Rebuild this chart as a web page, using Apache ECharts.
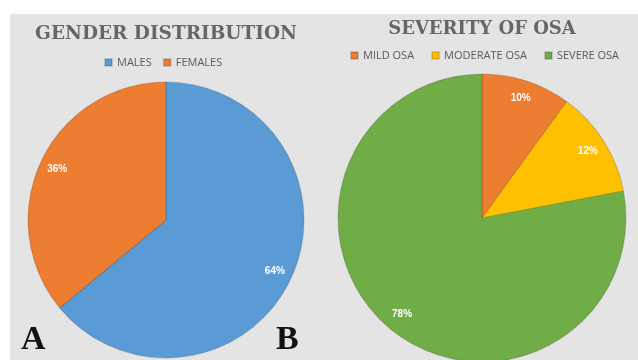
<!DOCTYPE html>
<html>
<head>
<meta charset="utf-8">
<script src="https://cdn.jsdelivr.net/npm/echarts@6/dist/echarts.min.js"></script>
<style>
  html, body { margin: 0; padding: 0; background: #fff; }
  #chart { width: 638px; height: 360px; }
</style>
</head>
<body>
<div id="chart"></div>
<script>
// gender pie (A)
const genderNames = ["MALES", "FEMALES"];
const genderValues = [64, 36];
const genderColors = ["#5b9bd5", "#ed7d31"];

// severity pie (B)
const osaNames = ["MILD OSA", "MODERATE OSA", "SEVERE OSA"];
const osaValues = [10, 12, 78];
const osaColors = ["#ed7d31", "#ffc000", "#70ad47"];

const toData = (names, values, colors) =>
	names.map((n, i) => ({ name: n, value: values[i], itemStyle: { color: colors[i] } }));

const pieA = { center: [166, 220], r: 138 };
const pieB = { center: [482, 218], r: 144 };

const labelStyle = {
	show: true,
	position: "inside",
	formatter: "{d}%",
	color: "#fff",
	fontSize: 10,
	fontWeight: "bold",
	fontFamily: "Liberation Sans",
};

function visiblePie(p, data) {
	return {
		type: "pie",
		center: p.center,
		radius: [0, p.r],
		startAngle: 90,
		clockwise: true,
		silent: true,
		label: { show: false },
		labelLine: { show: false },
		itemStyle: { borderColor: "rgba(0,0,0,0.14)", borderWidth: 1.2 },
		data: data,
	};
}

// transparent ring on top, only to put the % labels out near the rim
function labelPie(p, names, values) {
	return {
		type: "pie",
		center: p.center,
		radius: [p.r * 0.7, p.r],
		startAngle: 90,
		clockwise: true,
		silent: true,
		z: 3,
		itemStyle: { color: "transparent", borderWidth: 0 },
		label: labelStyle,
		labelLine: { show: false },
		data: names.map((n, i) => ({ name: n, value: values[i] })),
	};
}

const titleStyle = {
	fontFamily: "DejaVu Serif",
	fontWeight: "bold",
	fontSize: 18.5,
	color: "#666",
};
const legendText = { fontFamily: "Open Sans", fontSize: 11, color: "#595959" };

const option = {
	backgroundColor: "#fff",
	animation: false,
	graphic: [
		{ type: "rect", z: -10, shape: { x: 10, y: 14, width: 628, height: 346 }, style: { fill: "#e4e4e4" } },
		{ type: "text", left: 21, top: 323, style: { text: "A", font: "bold 34px 'Liberation Serif'", fill: "#111" } },
		{ type: "text", left: 276, top: 323, style: { text: "B", font: "bold 34px 'Liberation Serif'", fill: "#111" } },
	],
	title: [
		{ text: "GENDER DISTRIBUTION", left: 161, top: 20, textAlign: "center", textStyle: titleStyle },
		{ text: "SEVERITY OF OSA", left: 477, top: 15, textAlign: "center", textStyle: Object.assign({}, titleStyle, { fontSize: 18 }) },
	],
	legend: [
		{
			data: genderNames,
			left: 99, top: 52,
			itemWidth: 7, itemHeight: 7, itemGap: 11,
			icon: "rect",
			textStyle: legendText,
		},
		{
			data: osaNames,
			left: 345, top: 45,
			itemWidth: 7, itemHeight: 7, itemGap: 17,
			icon: "rect",
			textStyle: legendText,
		},
	],
	series: [
		visiblePie(pieA, toData(genderNames, genderValues, genderColors)),
		visiblePie(pieB, toData(osaNames, osaValues, osaColors)),
		labelPie(pieA, genderNames, genderValues),
		labelPie(pieB, osaNames, osaValues),
	],
};

const chart = echarts.init(document.getElementById("chart"));
chart.setOption(option);
</script>
</body>
</html>
